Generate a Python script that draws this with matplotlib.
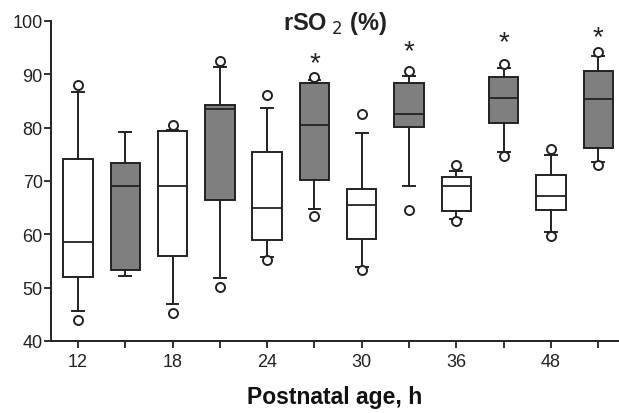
import numpy as np
import matplotlib.pyplot as plt

plt.rcParams['font.family'] = ['Liberation Sans', 'DejaVu Sans']

# box statistics, one entry per box (white/gray pairs)
ages = ['12', '18', '24', '30', '36', '48']
q1 = [51.9, 53.3, 56.0, 66.5, 59.0, 70.2, 59.1, 80.2, 64.4, 80.9, 64.5, 76.1]
med = [58.5, 69.0, 69.0, 83.4, 64.9, 80.5, 65.4, 82.6, 69.1, 85.6, 67.1, 85.4]
q3 = [74.2, 73.4, 79.4, 84.2, 75.5, 88.3, 68.4, 88.4, 70.7, 89.4, 71.2, 90.6]
whislo = [45.7, 52.2, 47.0, 51.8, 55.8, 64.7, 53.8, 69.0, 62.9, 75.4, 60.4, 73.5]
whishi = [86.6, 79.2, 79.5, 91.4, 83.6, 88.9, 78.9, 89.7, 71.9, 91.2, 74.9, 93.4]
fliers = [[87.9, 44.0], [], [80.4, 45.2], [92.5, 50.1], [86.2, 55.2], [89.4, 63.4],
          [82.6, 53.3], [90.6, 64.6], [72.9, 62.4], [91.9, 74.7], [75.9, 59.6], [94.1, 72.9]]
signif = [False, False, False, False, False, True, False, True, False, True, False, True]
star_y = [None, None, None, None, None, 92.0, None, 94.4, None, 96.0, None, 96.9]

stats = []
for i in range(len(med)):
    stats.append(dict(med=med[i], q1=q1[i], q3=q3[i], whislo=whislo[i],
                      whishi=whishi[i], fliers=fliers[i]))

fig = plt.figure(figsize=(6.19, 4.14), dpi=100)
ax = fig.add_axes([0.0824, 0.174, 0.9176, 0.773])

pos = np.arange(1, len(med) + 1)
bp = ax.bxp(stats, positions=pos, widths=0.62, patch_artist=True,
            boxprops=dict(linewidth=1.4, edgecolor='#222222'),
            medianprops=dict(color='#222222', linewidth=1.3),
            whiskerprops=dict(color='#222222', linewidth=1.4),
            capprops=dict(color='#222222', linewidth=1.4),
            capwidths=0.25,
            flierprops=dict(marker='o', markersize=6.5, markerfacecolor='white',
                            markeredgecolor='#222222', markeredgewidth=1.4))
for i, b in enumerate(bp['boxes']):
    b.set_facecolor('#7f7f7f' if i % 2 else 'white')

for i in range(len(med)):
    if signif[i]:
        ax.text(pos[i], star_y[i], '*', ha='center', va='center', fontsize=20,
                color='#222222')

ax.set_xlim(0.43, 12.44)
ax.set_ylim(40, 100)
ax.set_yticks([40, 50, 60, 70, 80, 90, 100])
ax.set_xticks(pos)
ax.set_xticklabels([ages[i // 2] if i % 2 == 0 else '' for i in range(len(med))])
ax.tick_params(axis='both', labelsize=13, color='#222222', labelcolor='#222222',
               width=1.3, length=5)
ax.tick_params(axis='y', pad=1)
ax.spines['top'].set_visible(False)
ax.spines['right'].set_visible(False)
for s in ['left', 'bottom']:
    ax.spines[s].set_linewidth(1.4)
    ax.spines[s].set_color('#222222')

ax.text(0.5, 0.995, r'rSO$_{\mathsf{\ 2}}$ (%)', transform=ax.transAxes, ha='center', va='center',
        fontsize=17, fontweight='bold', color='#222222')
ax.set_xlabel('Postnatal age, h', fontsize=16.5, fontweight='bold', color='#111111',
              labelpad=11)

fig.savefig('out.png', dpi=100)
